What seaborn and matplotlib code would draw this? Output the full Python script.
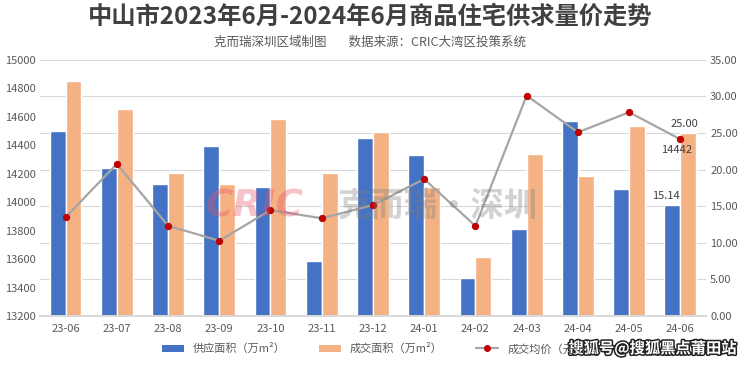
import matplotlib
matplotlib.use("Agg")
import matplotlib.pyplot as plt
import matplotlib.patheffects as pe
from matplotlib.patches import Patch
from matplotlib.lines import Line2D
import seaborn as sns
import pandas as pd
import numpy as np

months = ["23-06", "23-07", "23-08", "23-09", "23-10", "23-11", "23-12",
          "24-01", "24-02", "24-03", "24-04", "24-05", "24-06"]
supply = [25.33, 20.19, 18.09, 23.28, 17.59, 7.47, 24.38, 22.05, 5.15, 11.94, 26.66, 17.36, 15.14]
deal = [32.09, 28.30, 19.59, 18.00, 26.97, 19.50, 25.20, 17.63, 8.02, 22.10, 19.14, 25.97, 25.00]
price = [13894, 14269, 13835, 13729, 13945, 13887, 13980, 14163, 13833, 14749, 14491, 14632, 14442]

s_supply = "供应面积（万m²）"
s_deal = "成交面积（万m²）"
s_price = "成交均价（元/m²）"

sns.set_theme(style="white")
plt.rcParams["font.family"] = ["Noto Sans CJK SC", "DejaVu Sans"]

BLUE = "#4472C4"
ORANGE = "#F4B183"
GREY = "#A5A5A5"
RED = "#C00000"
TXT = "#595959"

df = pd.DataFrame({
    "month": months * 2,
    "value": supply + deal,
    "series": [s_supply] * len(months) + [s_deal] * len(months),
})

fig = plt.figure(figsize=(7.4, 3.65), dpi=100)
ax = fig.add_axes([0.054, 0.134, 0.9, 0.702])

ax.set_axisbelow(True)
sns.barplot(data=df, x="month", y="value", hue="series", order=months,
            hue_order=[s_supply, s_deal], palette=[BLUE, ORANGE],
            width=0.62, gap=0, ax=ax, legend=False, saturation=1)
ax.set_ylim(0, 35)
ax.set_yticks(np.arange(0, 35.01, 5))
ax.set_yticklabels([f"{v:.2f}" for v in np.arange(0, 35.01, 5)])
ax.grid(axis="y", color="#D9D9D9", linewidth=0.8)
ax.set_xlabel("")
ax.set_ylabel("")
ax.set_xlim(-0.5, len(months) - 0.5)

ax2 = ax.twinx()
ax.yaxis.tick_right()
ax.yaxis.set_label_position("right")
pdf = pd.DataFrame({"month": months, "price": price, "x": np.arange(len(months))})
sns.lineplot(data=pdf, x="x", y="price", ax=ax2, color=GREY, linewidth=1.6,
             marker="o", markersize=4.5, markerfacecolor=RED, markeredgecolor=RED,
             zorder=5)
ax2.set_ylim(13200, 15000)
ax2.set_yticks(np.arange(13200, 15001, 200))
ax2.yaxis.tick_left()
ax2.yaxis.set_label_position("left")
ax2.set_xlabel("")
ax2.set_ylabel("")
ax2.set_xlim(-0.5, len(months) - 0.5)

for a in (ax, ax2):
    for sp in ["top", "left", "right"]:
        a.spines[sp].set_visible(False)
    a.spines["bottom"].set_color("#D9D9D9")
    a.tick_params(axis="y", length=0, labelsize=8, labelcolor=TXT, pad=3)

ax.set_xticks(np.arange(len(months)))
ax.set_xticklabels(months)
ax.tick_params(axis="x", length=0, labelsize=8, labelcolor=TXT, pad=6)
ax.set_xticks(np.arange(len(months) + 1) - 0.5, minor=True)
ax.tick_params(axis="x", which="minor", length=5, color="#D9D9D9", width=0.8)

# data labels for last month
n = len(months) - 1
ax.annotate(f"{supply[n]:.2f}", (n - 0.155, supply[n]), xytext=(-5, 3),
            textcoords="offset points", ha="center", va="bottom", fontsize=8, color="#404040")
ax.annotate(f"{deal[n]:.2f}", (n + 0.155, deal[n]), xytext=(-3, 3),
            textcoords="offset points", ha="center", va="bottom", fontsize=8, color="#404040")
ax2.annotate(f"{price[n]}", (n, price[n]), xytext=(-3, -4),
             textcoords="offset points", ha="center", va="top", fontsize=8, color="#404040")

# titles
fig.text(0.5, 0.955, "中山市2023年6月-2024年6月商品住宅供求量价走势", ha="center", va="center",
         fontsize=17.5, fontweight="bold", color="#404040")
fig.text(0.5, 0.885, "克而瑞深圳区域制图        数据来源：CRIC大湾区投策系统", ha="center",
         va="center", fontsize=9, color=TXT)

# watermark
fig.text(0.278, 0.435, "CRIC", fontsize=27, fontweight="bold", fontstyle="italic",
         color="#E8536A", alpha=0.35, ha="left", va="center", family=["DejaVu Sans"])
fig.text(0.455, 0.435, "克而瑞·深圳", fontsize=24, fontweight="bold",
         color="#7F7F7F", alpha=0.35, ha="left", va="center")

# legend
handles = [Patch(facecolor=BLUE, edgecolor="none"),
           Patch(facecolor=ORANGE, edgecolor="none"),
           Line2D([0], [0], color=GREY, lw=1.6, marker="o", markersize=4,
                  markerfacecolor=RED, markeredgecolor=RED)]
fig.legend(handles, [s_supply, s_deal, s_price], loc="center left", ncol=3,
           bbox_to_anchor=(0.205, 0.045), frameon=False, fontsize=8,
           labelcolor=TXT, columnspacing=3.0, handlelength=2.0, handleheight=0.7)

fig.text(0.995, 0.045, "搜狐号@搜狐黑点莆田站", ha="right", va="center", fontsize=11,
         fontweight="bold", color="white",
         path_effects=[pe.withStroke(linewidth=2.2, foreground="#222222")])

fig.savefig("out.png", dpi=100)
